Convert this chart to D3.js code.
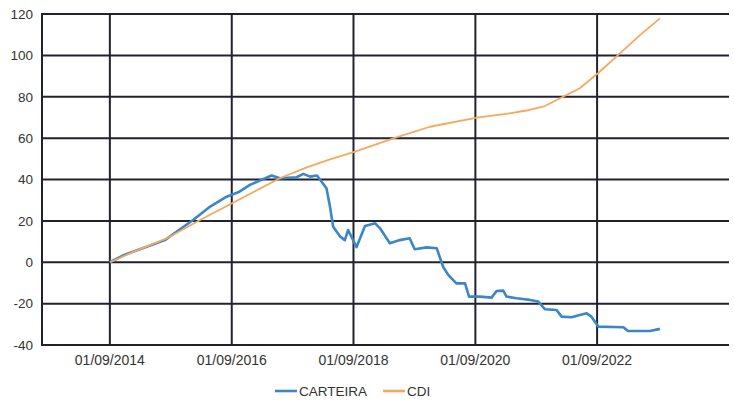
<!DOCTYPE HTML>
<html>
<head>
<meta charset="utf-8">
<title>CARTEIRA x CDI</title>
<style>
	body { margin: 0; background: #fff; }
	text { font-family: "Liberation Sans", Arial, sans-serif; fill: #333; }
</style>
</head>
<body>
<div id="chart"></div>
<script src="https://cdnjs.cloudflare.com/ajax/libs/d3/7.8.5/d3.min.js"></script>
<script>
// series
var carteiraDates = ["2014-09-01","2014-11-25","2015-02-20","2015-07-28","2016-01-13","2016-04-25","2016-08-01","2016-10-10","2016-12-19","2017-04-28","2017-06-16","2017-09-25","2017-11-04","2017-12-15","2018-01-25","2018-03-23","2018-04-13","2018-05-02","2018-06-13","2018-07-11","2018-07-31","2018-09-19","2018-11-09","2019-01-09","2019-02-07","2019-04-07","2019-06-06","2019-08-04","2019-09-03","2019-11-13","2020-01-13","2020-02-21","2020-03-22","2020-05-10","2020-07-01","2020-07-25","2020-09-28","2020-12-07","2021-01-06","2021-02-15","2021-03-07","2021-05-06","2021-07-25","2021-09-13","2021-10-23","2022-01-01","2022-01-31","2022-04-01","2022-05-20","2022-07-01","2022-07-29","2022-09-08","2023-02-06","2023-03-05","2023-07-14","2023-09-13"];
var carteiraValues = [0,3.5,6,10.7,20.4,26.9,31.7,33.8,37.4,41.9,40.6,41.1,42.7,41.4,41.9,35.8,26.9,17.2,12.4,10.7,15.6,7.3,17.5,18.8,16.4,9.2,10.7,11.6,6.3,7.2,6.8,-2.3,-6.1,-10.2,-10.2,-16.6,-16.6,-17.1,-13.9,-13.7,-16.6,-17.4,-18.2,-19.0,-22.7,-23.1,-26.3,-26.6,-25.5,-24.7,-26.3,-31.1,-31.4,-33.2,-33.2,-32.2];

var cdiDates = ["2014-09-01","2015-01-20","2015-08-07","2016-02-24","2016-10-10","2017-06-16","2017-11-25","2018-04-13","2018-09-10","2019-05-16","2019-12-04","2020-09-10","2021-03-25","2021-07-22","2021-10-23","2022-01-22","2022-05-20","2022-09-08","2023-01-16","2023-05-16","2023-09-13"];
var cdiValues = [0,5.0,11.5,20.4,30.1,40.6,45.9,49.7,53.5,60.4,65.5,69.9,72.0,73.6,75.5,79.3,84.1,91.5,101,109.8,117.9];

var xTicks = ["2014-09-01","2016-09-01","2018-09-01","2020-09-01","2022-09-01"];
var yTicks = [-40,-20,0,20,40,60,80,100,120];

var parse = d3.timeParse("%Y-%m-%d");
var fmt = d3.timeFormat("%d/%m/%Y");

var W = 734, H = 401;
var pLeft = 42, pRight = 727, pTop = 14, pBottom = 345;

var svg = d3.select("#chart").append("svg")
	.attr("width", W).attr("height", H);

var x = d3.scaleTime()
	.domain([parse("2013-07-21"), parse("2024-10-19")])
	.range([pLeft, pRight]);
var y = d3.scaleLinear().domain([-40, 120]).range([pBottom, pTop]);

var gridColor = "#22222e";

// horizontal grid
svg.append("g").selectAll("line").data(yTicks).enter().append("line")
	.attr("x1", pLeft).attr("x2", pRight + 2)
	.attr("y1", function(d){ return y(d); })
	.attr("y2", function(d){ return y(d); })
	.attr("stroke", gridColor).attr("stroke-width", 2);

// vertical grid
svg.append("g").selectAll("line").data(xTicks).enter().append("line")
	.attr("x1", function(d){ return x(parse(d)); })
	.attr("x2", function(d){ return x(parse(d)); })
	.attr("y1", pTop).attr("y2", pBottom)
	.attr("stroke", gridColor).attr("stroke-width", 2);

svg.append("line")
	.attr("x1", pLeft).attr("x2", pLeft).attr("y1", pTop - 1).attr("y2", pBottom + 1)
	.attr("stroke", gridColor).attr("stroke-width", 2);

// y labels
svg.append("g").selectAll("text").data(yTicks).enter().append("text")
	.attr("x", 33)
	.attr("y", function(d){ return y(d); })
	.attr("dy", "0.36em")
	.attr("text-anchor", "end")
	.style("font-size", "13.5px")
	.text(function(d){ return d; });

// x labels
svg.append("g").selectAll("text").data(xTicks).enter().append("text")
	.attr("x", function(d){ return x(parse(d)); })
	.attr("y", 365)
	.attr("text-anchor", "middle")
	.style("font-size", "14px")
	.text(function(d){ return fmt(parse(d)); });

var line = d3.line()
	.x(function(d){ return x(d[0]); })
	.y(function(d){ return y(d[1]); });

var carteira = carteiraDates.map(function(d, i){ return [parse(d), carteiraValues[i]]; });
var cdi = cdiDates.map(function(d, i){ return [parse(d), cdiValues[i]]; });

svg.append("path").datum(carteira)
	.attr("d", line)
	.attr("fill", "none")
	.attr("stroke", "#3a86c8")
	.attr("stroke-width", 2.6)
	.attr("stroke-linejoin", "round");

svg.append("path").datum(cdi)
	.attr("d", line)
	.attr("fill", "none")
	.attr("stroke", "#f6a85c")
	.attr("stroke-width", 1.8)
	.attr("stroke-linejoin", "round");

// legend
var legend = [["CARTEIRA", "#3a86c8", 275], ["CDI", "#f6a85c", 383]];
legend.forEach(function(l){
	svg.append("line")
		.attr("x1", l[2]).attr("x2", l[2] + 22)
		.attr("y1", 391).attr("y2", 391)
		.attr("stroke", l[1]).attr("stroke-width", 2.6);
	svg.append("text")
		.attr("x", l[2] + 24).attr("y", 391).attr("dy", "0.36em")
		.style("font-size", "13.5px")
		.text(l[0]);
});
</script>
</body>
</html>
